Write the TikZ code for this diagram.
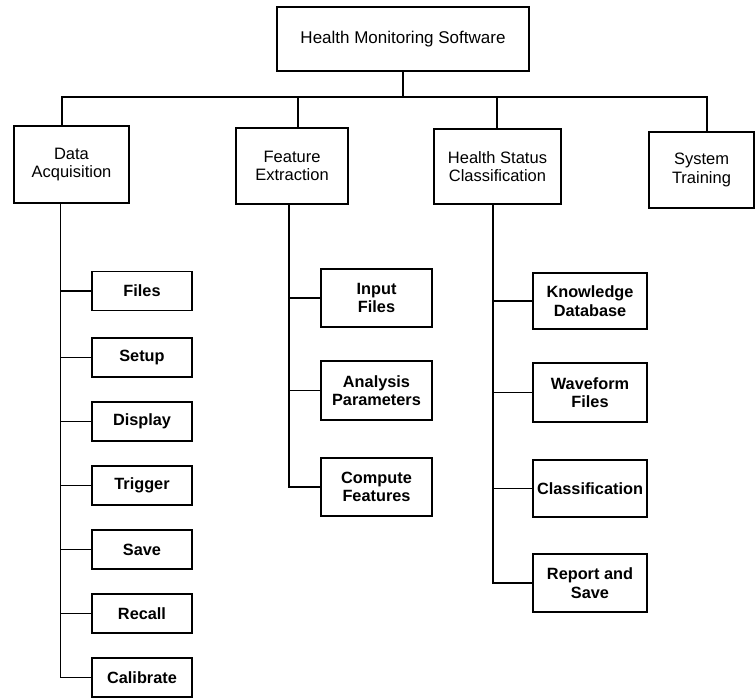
\documentclass[tikz,border=0pt]{standalone}
\usepackage{fontspec}
\setmainfont{Liberation Sans}
\begin{document}
\begin{tikzpicture}[x=1pt,y=-1pt,
  box/.style={draw, line width=1.7pt, inner sep=0pt, align=center,
    font=\fontsize{16.5}{18.5}\selectfont},
  sub/.style={box, font=\bfseries\fontsize{16.3}{18.5}\selectfont},
  conn/.style={line width=1.7pt}]
\useasboundingbox (0,0) rectangle (755,698);
% top
\node[box, minimum width=252pt, minimum height=64pt, font=\fontsize{17}{20}\selectfont] (top) at (403,39) {Health Monitoring Software};
% level 1
\node[box, minimum width=115pt, minimum height=77pt] (da) at (71.5,164.5) {Data\\Acquisition};
\node[box, minimum width=112pt, minimum height=76pt] (fe) at (292,166) {Feature\\Extraction};
\node[box, minimum width=127pt, minimum height=75pt] (hs) at (497.5,166.5) {Health Status\\Classification};
\node[box, minimum width=105pt, minimum height=76pt] (st) at (701.5,170) {System\\Training};
% bar
\coordinate (s1) at (62,97);
\coordinate (s2) at (298,97);
\coordinate (s3) at (497,97);
\coordinate (s4) at (707,97);
\draw[conn] (top.south) -- (top.south |- s1);
\draw[conn] (s1 |- da.north) -- (s1) -- (s4) -- (s4 |- st.north);
\draw[conn] (s2) -- (s2 |- fe.north);
\draw[conn] (s3) -- (s3 |- hs.north);
% Data acquisition children
\foreach \n/\t/\y in {files/Files/291, setup/Setup/357.5, display/Display/421.5, trigger/Trigger/485.5, save/Save/549.5, recall/Recall/613.5, calibrate/Calibrate/677.5}
  \node[sub, minimum width=100pt, minimum height=39pt] (\n) at (142,\y) {\t};
\path (da.south) ++(-11,0) coordinate (ta);
\draw[conn] (ta) |- (calibrate.west);
\foreach \n in {files,setup,display,trigger,save,recall}
  \draw[conn] (ta |- \n.west) -- (\n.west);
% Feature extraction children
\node[sub, minimum width=111pt, minimum height=58pt] (input) at (376.5,298) {Input\\Files};
\node[sub, minimum width=111pt, minimum height=59pt] (analysis) at (376.5,390.5) {Analysis\\Parameters};
\node[sub, minimum width=111pt, minimum height=58pt] (compute) at (376.5,487) {Compute\\Features};
\path (fe.south) ++(-3,0) coordinate (tf);
\draw[conn] (tf) |- (compute.west);
\foreach \n in {input,analysis}
  \draw[conn] (tf |- \n.west) -- (\n.west);
% Health status children
\node[sub, minimum width=114pt, minimum height=56pt] (know) at (590,301) {Knowledge\\Database};
\node[sub, minimum width=114pt, minimum height=59pt] (wave) at (590,392.5) {Waveform\\Files};
\node[sub, minimum width=114pt, minimum height=57pt] (class) at (590,488.5) {Classification};
\node[sub, minimum width=114pt, minimum height=58pt] (report) at (590,583) {Report and\\Save};
\path (hs.south) ++(-4.5,0) coordinate (th);
\draw[conn] (th) |- (report.west);
\foreach \n in {know,wave,class}
  \draw[conn] (th |- \n.west) -- (\n.west);
\end{tikzpicture}
\end{document}
